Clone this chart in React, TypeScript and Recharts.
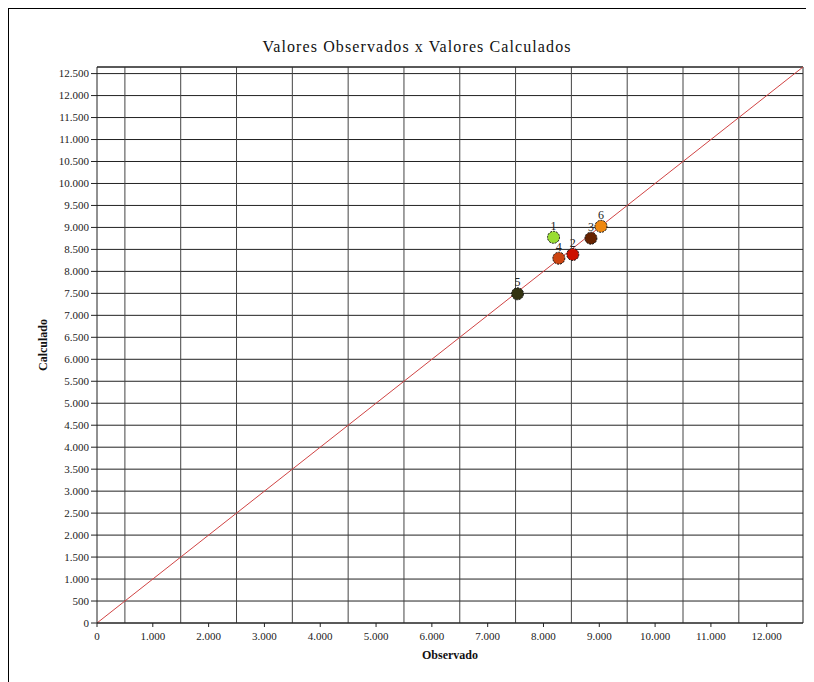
import React from "react";
import {
  ScatterChart,
  Scatter,
  XAxis,
  YAxis,
  CartesianGrid,
  ReferenceLine,
  LabelList,
  Cell,
  Label,
} from "recharts";

const pointIds = ["1", "2", "3", "4", "5", "6"];
const observed = [8180, 8525, 8850, 8275, 7535, 9030];
const calculated = [8775, 8385, 8755, 8300, 7490, 9025];
const pointColors = ["#99dd33", "#cc1100", "#662200", "#cc4411", "#333311", "#ee8811"];

const xTicks = [0, 1000, 2000, 3000, 4000, 5000, 6000, 7000, 8000, 9000, 10000, 11000, 12000];
const yTicks = [
  0, 500, 1000, 1500, 2000, 2500, 3000, 3500, 4000, 4500, 5000, 5500, 6000, 6500, 7000,
  7500, 8000, 8500, 9000, 9500, 10000, 10500, 11000, 11500, 12000, 12500,
];
const xGridLines = [500, 1500, 2500, 3500, 4500, 5500, 6500, 7500, 8500, 9500, 10500, 11500];
const axisMax = 12650;

const data = pointIds.map((id, i) => ({
  id,
  x: observed[i],
  y: calculated[i],
  color: pointColors[i],
}));

const fmt = (v: number) => v.toLocaleString("de-DE");

const serif = "'Liberation Serif', 'Times New Roman', 'DejaVu Serif', serif";
const tickStyle = { fill: "#222", fontSize: 11, fontFamily: serif, style: { fontFamily: serif } };

const Marker = (props: any) => {
  const { cx, cy, fill } = props;
  return (
    <circle cx={cx} cy={cy} r={6} fill={fill} stroke="#111" strokeWidth={1} strokeDasharray="2 1" />
  );
};

export default function App() {
  return (
    <div
      style={{
        position: "relative",
        width: 806,
        height: 674,
        borderLeft: "1px solid #000",
        borderTop: "1px solid #000",
        fontFamily: serif,
        overflow: "hidden",
      }}
    >
      <div
        style={{
          position: "absolute",
          top: 29,
          left: 0,
          width: 816,
          textAlign: "center",
          fontSize: 16,
          letterSpacing: 1.1,
          color: "#111",
        }}
      >
        Valores Observados x Valores Calculados
      </div>
      <ScatterChart width={805} height={673} margin={{ top: 58, right: 11, bottom: 29, left: 28 }}>
        <CartesianGrid vertical={false} stroke="#222" strokeWidth={1} />
        {xGridLines.map((v) => (
          <ReferenceLine key={v} x={v} stroke="#444" strokeWidth={1} />
        ))}
        <ReferenceLine y={axisMax} stroke="#222" strokeWidth={1} />
        <ReferenceLine x={axisMax} stroke="#222" strokeWidth={1} />
        <XAxis
          type="number"
          dataKey="x"
          domain={[0, axisMax]}
          ticks={xTicks}
          tickFormatter={fmt}
          tick={tickStyle}
          tickSize={4}
          tickMargin={5}
          tickLine={{ stroke: "#222" }}
          axisLine={{ stroke: "#222" }}
          height={30}
          allowDataOverflow
        >
          <Label
            value="Observado"
            position="insideBottom"
            offset={-6}
            style={{ fill: "#111", fontSize: 12, fontWeight: "bold", fontFamily: serif }}
          />
        </XAxis>
        <YAxis
          type="number"
          dataKey="y"
          domain={[0, axisMax]}
          ticks={yTicks}
          tickFormatter={fmt}
          tick={tickStyle}
          tickSize={6}
          tickLine={{ stroke: "#222" }}
          axisLine={{ stroke: "#222" }}
          width={60}
          interval={0}
          allowDataOverflow
        >
          <Label
            value="Calculado"
            angle={-90}
            position="insideLeft"
            offset={6}
            style={{ fill: "#111", fontSize: 12, fontWeight: "bold", fontFamily: serif, textAnchor: "middle" }}
          />
        </YAxis>
        <ReferenceLine
          segment={[
            { x: 0, y: 0 },
            { x: axisMax, y: axisMax },
          ]}
          stroke="#d04444"
          strokeWidth={1}
        />
        <Scatter data={data} shape={<Marker />} isAnimationActive={false}>
          {data.map((d) => (
            <Cell key={d.id} fill={d.color} />
          ))}
          <LabelList
            dataKey="id"
            position="top"
            offset={3}
            style={{ fill: "#222", fontSize: 12, fontFamily: serif }}
          />
        </Scatter>
      </ScatterChart>
    </div>
  );
}
